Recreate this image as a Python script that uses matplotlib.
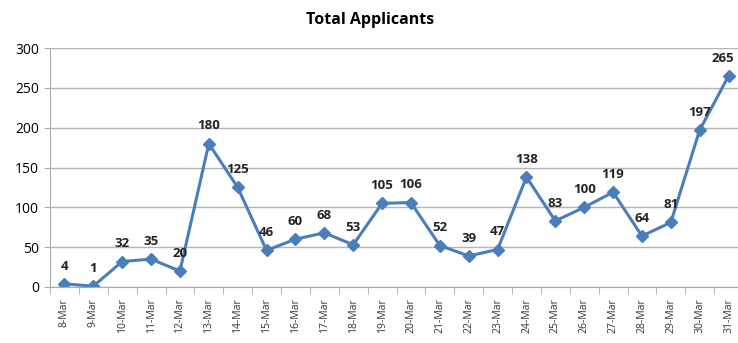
import matplotlib
matplotlib.use("Agg")
import matplotlib.pyplot as plt
import numpy as np

# data
days = [f"{d}-Mar" for d in range(8, 32)]
applicants = [4, 1, 32, 35, 20, 180, 125, 46, 60, 68, 53, 105, 106, 52,
              39, 47, 138, 83, 100, 119, 64, 81, 197, 265]

plt.rcParams['font.family'] = ['Open Sans', 'DejaVu Sans']

fig = plt.figure(figsize=(7.38, 3.43), dpi=100)
# plot area runs a little past the right edge, like the cropped original
ax = fig.add_axes([50/738, 56/343, 693/738, 239/343])

x = np.arange(len(days))
ax.plot(x, applicants, color='#4a7ebb', lw=2.2, marker='D', ms=6,
        markeredgecolor='#4a7ebb')

for xi, v in zip(x, applicants):
    dx = -4 if xi == x[-1] else 0  # keep the last label inside the figure
    ax.annotate(str(v), (xi, v), xytext=(dx, 8), textcoords='offset points',
                ha='center', va='bottom', fontsize=9.5, fontweight='bold',
                color='#222222')

ax.set_xlim(-0.5, len(days) - 0.5)
ax.set_ylim(0, 300)
ax.set_yticks(range(0, 301, 50))
ax.tick_params(axis='y', labelsize=10, length=4, color='#aaaaaa', pad=4)
ax.set_xticks(x)
ax.set_xticklabels(days, rotation=90, fontsize=7.5, color='#333333')
ax.tick_params(axis='x', length=0, pad=8)
ax.set_xticks(np.arange(-0.5, len(days)), minor=True)
ax.tick_params(axis='x', which='minor', length=5, color='#aaaaaa')

ax.grid(axis='y', color='#b4b4b4', lw=1)
ax.set_axisbelow(True)
for s in ['top', 'right']:
    ax.spines[s].set_visible(False)
for s in ['left', 'bottom']:
    ax.spines[s].set_color('#aaaaaa')

fig.text(370/738, 1 - 20/343, 'Total Applicants', ha='center', va='center',
         fontsize=11.5, fontweight='bold')

fig.savefig('out.png', dpi=100)
